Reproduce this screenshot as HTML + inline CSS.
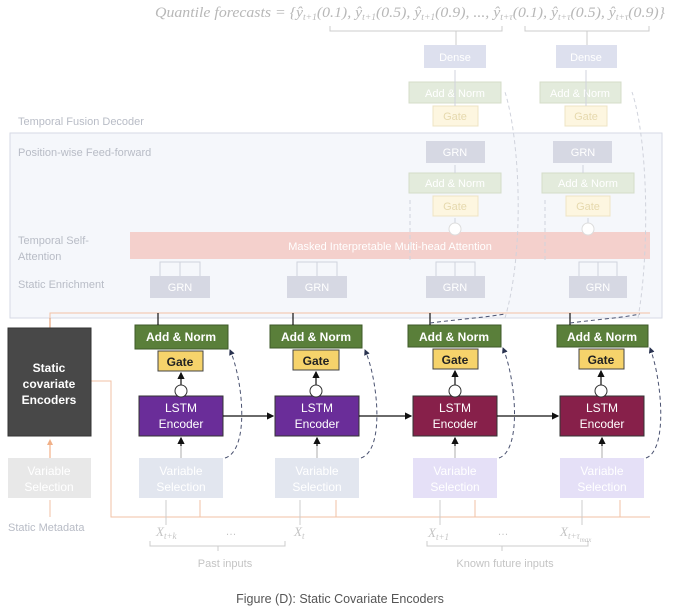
<!DOCTYPE html>
<html><head><meta charset="utf-8"><style>
html,body{margin:0;padding:0;background:#fff;}
svg{display:block;font-family:"Liberation Sans",sans-serif;}
</style></head><body>
<svg width="680" height="608" viewBox="0 0 680 608" xmlns="http://www.w3.org/2000/svg">
<defs>
<marker id="a" markerWidth="6" markerHeight="6" refX="5" refY="3" orient="auto"><path d="M0,0L6,3L0,6z" fill="#111"/></marker>
<marker id="g" markerWidth="6" markerHeight="6" refX="5" refY="3" orient="auto"><path d="M0,0L6,3L0,6z" fill="#c8ccd6"/></marker>
<marker id="d" markerWidth="6" markerHeight="6" refX="5" refY="3" orient="auto"><path d="M0,0L6,3L0,6z" fill="#2a3350"/></marker>
<marker id="o" markerWidth="6" markerHeight="6" refX="5" refY="3" orient="auto"><path d="M0,0L6,3L0,6z" fill="#f0b088"/></marker>
</defs>
<text x="155" y="17" font-family="Liberation Serif,serif" font-style="italic" font-size="15" fill="#b8b8b8" textLength="510" lengthAdjust="spacingAndGlyphs">Quantile forecasts = {ŷ<tspan font-size="9" dy="3">t+1</tspan><tspan dy="-3">(0.1), ŷ</tspan><tspan font-size="9" dy="3">t+1</tspan><tspan dy="-3">(0.5), ŷ</tspan><tspan font-size="9" dy="3">t+1</tspan><tspan dy="-3">(0.9), ..., ŷ</tspan><tspan font-size="9" dy="3">t+τ</tspan><tspan dy="-3">(0.1), ŷ</tspan><tspan font-size="9" dy="3">t+τ</tspan><tspan dy="-3">(0.5), ŷ</tspan><tspan font-size="9" dy="3">t+τ</tspan><tspan dy="-3">(0.9)}</tspan></text>
<path d="M330,26V31H502V26M456,31V45M525,26V31H649V26M587,31V45" fill="none" stroke="#ccc"/>

<rect x="10" y="133" width="652" height="185" fill="#f5f7fb" stroke="#d6dae4"/>
<g font-size="11" fill="#b8bcc6">
<text x="18" y="125">Temporal Fusion Decoder</text>
<text x="18" y="156">Position-wise Feed-forward</text>
<text x="18" y="244">Temporal Self-</text>
<text x="18" y="260">Attention</text>
<text x="18" y="288">Static Enrichment</text>
<text x="8" y="531">Static Metadata</text>
</g>

<g font-size="11" fill="#fff" text-anchor="middle">
<rect x="424" y="45" width="62" height="23" fill="#dde0ee"/><text x="455" y="61">Dense</text>
<rect x="556" y="45" width="61" height="23" fill="#dde0ee"/><text x="586" y="61">Dense</text>
<rect x="409" y="82" width="92" height="21" fill="#e3ebdc" stroke="#d4dcc9"/><text x="455" y="97">Add &amp; Norm</text>
<rect x="540" y="82" width="81" height="21" fill="#e3ebdc" stroke="#d4dcc9"/><text x="580" y="97">Add &amp; Norm</text>
<rect x="433" y="106" width="45" height="20" fill="#fdf6e0" stroke="#eee4c4"/><text x="455" y="120" fill="#e6d9ae">Gate</text>
<rect x="565" y="106" width="42" height="20" fill="#fdf6e0" stroke="#eee4c4"/><text x="586" y="120" fill="#e6d9ae">Gate</text>
<rect x="426" y="141" width="59" height="22" fill="#d6d8e3"/><text x="455" y="156">GRN</text>
<rect x="553" y="141" width="59" height="22" fill="#d6d8e3"/><text x="583" y="156">GRN</text>
<rect x="409" y="173" width="92" height="20" fill="#e3ebdc" stroke="#d4dcc9"/><text x="455" y="187">Add &amp; Norm</text>
<rect x="542" y="173" width="92" height="20" fill="#e3ebdc" stroke="#d4dcc9"/><text x="588" y="187">Add &amp; Norm</text>
<rect x="433" y="196" width="45" height="20" fill="#fdf6e0" stroke="#eee4c4"/><text x="455" y="210" fill="#e6d9ae">Gate</text>
<rect x="566" y="196" width="44" height="20" fill="#fdf6e0" stroke="#eee4c4"/><text x="588" y="210" fill="#e6d9ae">Gate</text>
<rect x="130" y="232" width="520" height="27" fill="#f4d0cc"/><text x="390" y="250">Masked Interpretable Multi-head Attention</text>
<rect x="150" y="276" width="60" height="22" fill="#d6d8e3"/><text x="180" y="291">GRN</text>
<rect x="287" y="276" width="60" height="22" fill="#d6d8e3"/><text x="317" y="291">GRN</text>
<rect x="426" y="276" width="59" height="22" fill="#d6d8e3"/><text x="455" y="291">GRN</text>
<rect x="569" y="276" width="58" height="22" fill="#d6d8e3"/><text x="598" y="291">GRN</text>
</g>
<g stroke="#d0d3dc" fill="none">
<path d="M455,229V218M588,229V218M455,106V70M586,106V70M455,173V165M583,173V165M455,276V262M598,276V262M180,276V262M317,276V262"/>
<path d="M160,276V262H200V276M297,276V262H337V276M436,276V262H475V276M579,276V262H617V276" />
<path d="M505,318C525,250 520,140 505,92M638,318C650,250 648,140 632,92M410,200V260M545,200V260" stroke-dasharray="4,3"/>
</g>
<circle cx="455" cy="229" r="6" fill="#fff" stroke="#ddd"/>
<circle cx="588" cy="229" r="6" fill="#fff" stroke="#ddd"/>

<g stroke="#f2c2a4" fill="none">
<path d="M50,328V313H650"/>
<path d="M91,381H111V517H650"/>
<path d="M200,517V500M336,517V500M475,517V500M620,517V500M50,517V500"/>
</g>
<path d="M50,458V440" stroke="#f0a070" marker-end="url(#o)"/>
<path d="M50,328V318" stroke="#e09060"/>

<rect x="8" y="328" width="83" height="108" fill="#484848" stroke="#333"/>
<g font-size="12" font-weight="bold" fill="#fff" text-anchor="middle">
<text x="49" y="372">Static</text><text x="49" y="388">covariate</text><text x="49" y="404">Encoders</text>
</g>

<g font-size="12" text-anchor="middle">
<rect x="135" y="325" width="93" height="24" fill="#5a7f3a" stroke="#3e5a28"/><text x="181" y="341" fill="#fff" font-weight="bold">Add &amp; Norm</text>
<rect x="270" y="325" width="92" height="23" fill="#5a7f3a" stroke="#3e5a28"/><text x="316" y="341" fill="#fff" font-weight="bold">Add &amp; Norm</text>
<rect x="408" y="325" width="93" height="22" fill="#5a7f3a" stroke="#3e5a28"/><text x="454" y="341" fill="#fff" font-weight="bold">Add &amp; Norm</text>
<rect x="557" y="325" width="91" height="22" fill="#5a7f3a" stroke="#3e5a28"/><text x="602" y="341" fill="#fff" font-weight="bold">Add &amp; Norm</text>
<rect x="158" y="351" width="45" height="20" fill="#f6d36b" stroke="#444"/><text x="180" y="366" fill="#222" font-weight="bold">Gate</text>
<rect x="293" y="350" width="46" height="20" fill="#f6d36b" stroke="#444"/><text x="316" y="365" fill="#222" font-weight="bold">Gate</text>
<rect x="433" y="349" width="45" height="20" fill="#f6d36b" stroke="#444"/><text x="455" y="364" fill="#222" font-weight="bold">Gate</text>
<rect x="579" y="349" width="45" height="20" fill="#f6d36b" stroke="#444"/><text x="601" y="364" fill="#222" font-weight="bold">Gate</text>
<rect x="139" y="396" width="84" height="40" fill="#6a2d99" stroke="#333"/><text x="181" y="412" fill="#fff">LSTM</text><text x="181" y="428" fill="#fff">Encoder</text>
<rect x="275" y="396" width="84" height="40" fill="#6a2d99" stroke="#333"/><text x="317" y="412" fill="#fff">LSTM</text><text x="317" y="428" fill="#fff">Encoder</text>
<rect x="413" y="396" width="84" height="40" fill="#87204a" stroke="#333"/><text x="455" y="412" fill="#fff">LSTM</text><text x="455" y="428" fill="#fff">Encoder</text>
<rect x="560" y="396" width="84" height="40" fill="#87204a" stroke="#333"/><text x="602" y="412" fill="#fff">LSTM</text><text x="602" y="428" fill="#fff">Encoder</text>
<rect x="8" y="458" width="83" height="40" fill="#e8e8e8"/><text x="49" y="475" fill="#fff">Variable</text><text x="49" y="491" fill="#fff">Selection</text>
<rect x="139" y="458" width="84" height="40" fill="#e2e6ef"/><text x="181" y="475" fill="#fff">Variable</text><text x="181" y="491" fill="#fff">Selection</text>
<rect x="275" y="458" width="84" height="40" fill="#e2e6ef"/><text x="317" y="475" fill="#fff">Variable</text><text x="317" y="491" fill="#fff">Selection</text>
<rect x="413" y="458" width="84" height="40" fill="#e5e0f7"/><text x="455" y="475" fill="#fff">Variable</text><text x="455" y="491" fill="#fff">Selection</text>
<rect x="560" y="458" width="84" height="40" fill="#e5e0f7"/><text x="602" y="475" fill="#fff">Variable</text><text x="602" y="491" fill="#fff">Selection</text>
</g>

<g stroke="#111" fill="none" stroke-width="1.2">
<path d="M181,385V373" marker-end="url(#a)"/><path d="M316,385V372" marker-end="url(#a)"/>
<path d="M455,385V371" marker-end="url(#a)"/><path d="M601,385V371" marker-end="url(#a)"/>
<path d="M223,416H273" marker-end="url(#a)"/><path d="M359,416H411" marker-end="url(#a)"/><path d="M497,416H558" marker-end="url(#a)"/>
<path d="M181,458V445M317,458V445M455,458V445M602,458V445" stroke="#bbb"/>
<path d="M181,446V438" marker-end="url(#a)"/><path d="M317,446V438" marker-end="url(#a)"/>
<path d="M455,446V438" marker-end="url(#a)"/><path d="M602,446V438" marker-end="url(#a)"/>
<path d="M158,325V313M293,325V313M430,325V313M570,325V313"/>
</g>
<g fill="#fff" stroke="#333"><circle cx="181" cy="391" r="6"/><circle cx="316" cy="391" r="6"/><circle cx="455" cy="391" r="6"/><circle cx="601" cy="391" r="6"/></g>
<g stroke="#4a5270" fill="none" stroke-dasharray="4,3">
<path d="M225,458C250,450 243,380 230,350" marker-end="url(#d)"/>
<path d="M361,458C385,450 378,380 365,350" marker-end="url(#d)"/>
<path d="M499,458C522,450 516,380 503,348" marker-end="url(#d)"/>
<path d="M646,458C668,450 662,380 650,348" marker-end="url(#d)"/>
<path d="M430,323C470,318 480,318 505,314M570,323C610,318 620,318 640,314"/>
</g>

<g stroke="#ccc" fill="none">
<path d="M166,525V500M300,525V500M440,525V500M582,525V500"/>
<path d="M150,541V546H285V541M218,546V551M427,541V546H588V541M502,546V551"/>
</g>
<g font-family="Liberation Serif,serif" font-style="italic" font-size="13" fill="#c4c4c4">
<text x="156" y="536">X<tspan font-size="9" dy="3">t+k</tspan></text>
<text x="294" y="536">X<tspan font-size="9" dy="3">t</tspan></text>
<text x="428" y="537">X<tspan font-size="9" dy="3">t+1</tspan></text>
<text x="560" y="536">X<tspan font-size="9" dy="3">t+τ</tspan><tspan font-size="7" dy="3">max</tspan></text>
</g>
<g font-size="11" fill="#c4c4c4" text-anchor="middle">
<text x="231" y="535">…</text><text x="503" y="535">…</text>
<text x="225" y="567">Past inputs</text>
<text x="505" y="567">Known future inputs</text>
</g>
<text x="340" y="603" font-size="12.5" fill="#555" text-anchor="middle">Figure (D): Static Covariate Encoders</text>
</svg>
</body></html>
